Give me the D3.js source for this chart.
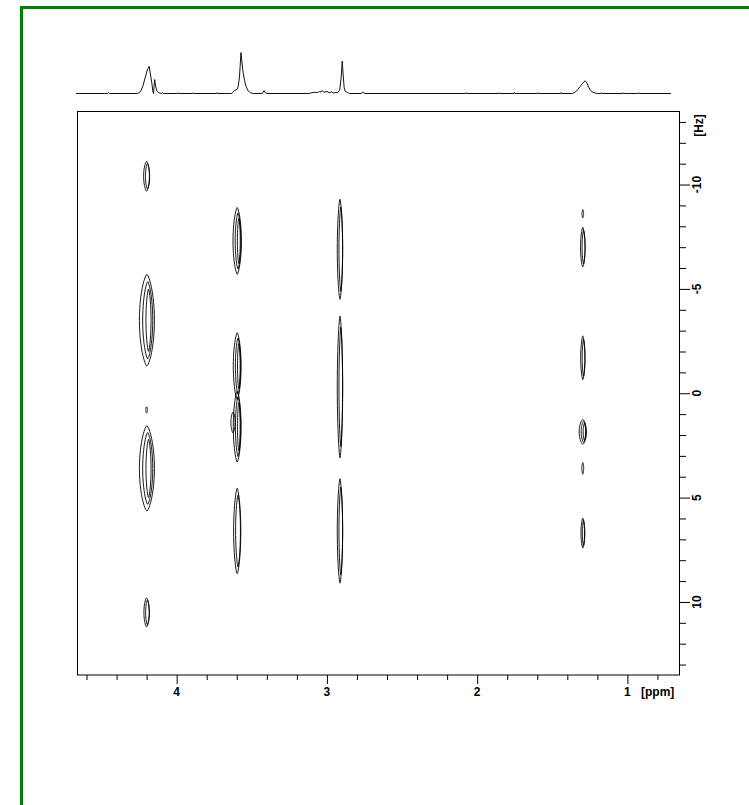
<!DOCTYPE html>
<html>
<head>
<meta charset="utf-8">
<script src="https://cdn.jsdelivr.net/npm/d3@7"></script>
<style>
  html, body { margin: 0; padding: 0; background: #fff; }
  svg { display: block; }
  .lbl { font-family: "Liberation Sans", Arial, sans-serif; font-weight: bold; font-size: 12px; fill: #000; }
</style>
</head>
<body>
<svg id="chart" width="749" height="805"></svg>
<script>
// Axis ranges (chemical shift in ppm, J coupling in Hz)
const ppmDomain = [4.66, 0.65];
const hzDomain = [-13.5, 13.5];

// Tick labels
const ppmMajorTicks = [4, 3, 2, 1];
const hzMajorTicks = [-10, -5, 0, 5, 10];

// 1D projection trace: chemical shift (ppm) and relative intensity
const specPpm = [4.67, 4.46, 4.454, 4.448, 4.26, 4.24, 4.225, 4.21, 4.195, 4.183, 4.175, 4.165, 4.158, 4.154,
  4.150, 4.146, 4.140, 4.132, 4.12, 4.10, 4.094, 4.088, 3.996, 3.993, 3.990, 3.893, 3.89, 3.887,
  3.735, 3.732, 3.729, 3.635, 3.625, 3.612, 3.598, 3.59, 3.582, 3.572, 3.566, 3.558, 3.548, 3.538,
  3.525, 3.51, 3.49, 3.43, 3.418, 3.41, 3.40, 3.12, 3.10, 3.08, 3.065, 3.05, 3.04, 3.03, 3.02, 3.00,
  2.985, 2.97, 2.955, 2.94, 2.93, 2.915, 2.905, 2.898, 2.892, 2.885, 2.878, 2.865, 2.85, 2.77, 2.762,
  2.755, 2.74, 2.078, 2.075, 2.072, 1.858, 1.855, 1.852, 1.755, 1.752, 1.749, 1.599, 1.596, 1.593,
  1.443, 1.44, 1.437, 1.365, 1.345, 1.33, 1.315, 1.30, 1.282, 1.27, 1.258, 1.245, 1.23, 1.215, 1.20,
  1.176, 1.173, 1.17, 1.027, 1.024, 1.021, 0.93, 0.927, 0.924, 0.71];
const specInt = [0, 0, 2.5, 0, 0, 5, 18, 38, 58, 66, 48, 25, 4, 0,
  20, 34, 18, 6, 2, 0, 2.5, 0, 0, 2, 0, 0, 2, 0,
  0, 2, 0, 0, 3, 8, 10, 18, 40, 100, 78, 52, 32, 17,
  7, 2, 0, 0, 7, 2, 0, 0, 2, 3, 2, 5, 4, 7, 3, 5,
  2, 4, 1, 3, 2, 8, 40, 79, 45, 14, 5, 3, 0, 0, 4,
  1, 0, 0, 2, 0, 0, 2, 0, 0, 2.5, 0, 0, 2, 0,
  0, 2.5, 0, 0, 4, 10, 17, 24, 31, 26, 15, 7, 3, 1, 0,
  0, 2, 0, 0, 2, 0, 0, 2, 0, 0];

// 2D cross peaks: centre (ppm, Hz), half-widths (ppm, Hz) and number of contour levels
const peakPpm    = [4.200, 4.198, 4.200, 4.198, 4.200, 3.597, 3.597, 3.597, 3.625, 3.597, 2.913, 2.913, 2.913, 1.297, 1.297, 1.297, 1.297, 1.297, 1.297];
const peakHz     = [-10.4, -3.5, 0.8, 3.6, 10.5, -7.3, -1.3, 1.6, 1.4, 6.6, -6.9, -0.3, 6.6, -8.6, -7.0, -1.7, 1.85, 3.6, 6.7];
const peakWidth  = [0.020, 0.050, 0.005, 0.050, 0.018, 0.028, 0.026, 0.026, 0.014, 0.024, 0.018, 0.018, 0.018, 0.005, 0.015, 0.014, 0.024, 0.006, 0.012];
const peakHeight = [0.72, 2.2, 0.15, 2.05, 0.7, 1.6, 1.6, 1.7, 0.5, 2.05, 2.4, 3.4, 2.5, 0.2, 0.95, 1.05, 0.6, 0.28, 0.72];
const peakLevels = [2, 3, 1, 3, 2, 3, 3, 3, 1, 2, 2, 2, 2, 1, 2, 2, 3, 1, 2];

const svg = d3.select("#chart");

// Frame lines along the top and left edges
svg.append("line").attr("x1", 20).attr("x2", 749).attr("y1", 7.5).attr("y2", 7.5)
  .attr("stroke", "#008000").attr("stroke-width", 3);
svg.append("line").attr("x1", 21.5).attr("x2", 21.5).attr("y1", 6).attr("y2", 805)
  .attr("stroke", "#008000").attr("stroke-width", 3);

const x = d3.scaleLinear().domain(ppmDomain).range([77.5, 680]);
const y = d3.scaleLinear().domain(hzDomain).range([111.5, 675]);
const yi = d3.scaleLinear().domain([0, 100]).range([93.5, 52.5]);

// 1D projection
const trace = d3.line().x((d, i) => x(specPpm[i])).y(d => yi(d));
svg.append("path").attr("d", trace(specInt))
  .attr("fill", "none").attr("stroke", "#111").attr("stroke-width", 1);

// Plot frame
svg.append("rect").attr("x", 77.5).attr("y", 111.5).attr("width", 602).attr("height", 563.5)
  .attr("fill", "none").attr("stroke", "#000").attr("stroke-width", 1);

// Contours: lens-shaped closed curves, tapering towards the Hz ends
const lens = d3.line().curve(d3.curveLinearClosed);
const angles = d3.range(0, 2 * Math.PI, Math.PI / 24);
const contours = svg.append("g").attr("fill", "none").attr("stroke", "#000").attr("stroke-width", 0.9);
peakPpm.forEach((p, i) => {
  for (let k = 0; k < peakLevels[i]; k++) {
    const fx = 1 - 0.33 * k, fy = 1 - 0.16 * k;
    const cx = x(p) + k * 0.8, cy = y(peakHz[i]);
    const rx = Math.max(Math.abs(x(p + peakWidth[i] * fx) - x(p)), 0.8);
    const ry = Math.max(Math.abs(y(peakHz[i] + peakHeight[i] * fy) - y(peakHz[i])), 1.2);
    const pts = angles.map(t => {
      const c = Math.cos(t);
      return [cx + rx * Math.sign(c) * Math.pow(Math.abs(c), 1.4), cy + ry * Math.sin(t)];
    });
    contours.append("path").attr("d", lens(pts));
  }
});

// Bottom axis (ppm)
const minorPpm = d3.range(4.6, 0.7, -0.2).map(v => +v.toFixed(1)).filter(v => !ppmMajorTicks.includes(v));
const gx = svg.append("g").attr("transform", "translate(0,675)");
gx.call(d3.axisBottom(x).tickValues(minorPpm).tickSize(5).tickFormat(""));
gx.call(g => g.select(".domain").remove());
const gx2 = svg.append("g").attr("transform", "translate(0,675)");
gx2.call(d3.axisBottom(x).tickValues(ppmMajorTicks).tickSize(9).tickFormat(""));
gx2.call(g => g.select(".domain").remove());

svg.append("g").selectAll("text").data(ppmMajorTicks).join("text")
  .attr("class", "lbl").attr("x", d => x(d)).attr("y", 696)
  .attr("text-anchor", "middle").text(d => d);
svg.append("text").attr("class", "lbl").attr("x", 641).attr("y", 696).text("[ppm]");

// Right axis (Hz)
const minorHz = d3.range(-13, 14, 1).filter(v => !hzMajorTicks.includes(v));
const gy = svg.append("g").attr("transform", "translate(680,0)");
gy.call(d3.axisRight(y).tickValues(minorHz).tickSize(6).tickFormat(""));
gy.call(g => g.select(".domain").remove());
const gy2 = svg.append("g").attr("transform", "translate(680,0)");
gy2.call(d3.axisRight(y).tickValues(hzMajorTicks).tickSize(10).tickFormat(""));
gy2.call(g => g.select(".domain").remove());
svg.selectAll(".tick line").attr("stroke", "#000");

svg.append("g").selectAll("text").data(hzMajorTicks).join("text")
  .attr("class", "lbl")
  .attr("transform", d => `translate(701,${y(d)}) rotate(-90)`)
  .attr("text-anchor", "middle").text(d => d);
svg.append("text").attr("class", "lbl")
  .attr("transform", `translate(703,125.5) rotate(-90)`)
  .attr("text-anchor", "middle").text("[Hz]");
</script>
</body>
</html>
